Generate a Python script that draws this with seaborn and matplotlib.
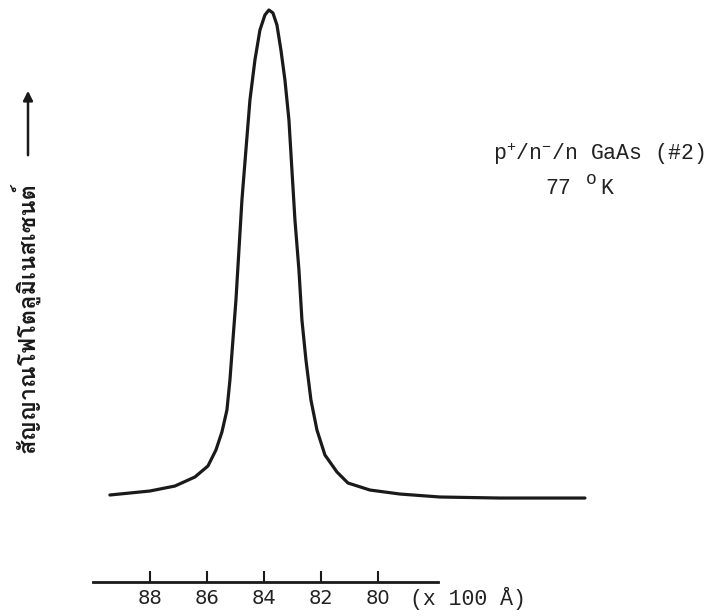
import numpy as np
import pandas as pd
import seaborn as sns
import matplotlib
matplotlib.use('Agg')
import matplotlib.pyplot as plt
from matplotlib import font_manager
from matplotlib.ft2font import FT2Font

sns.set_style('white')

# Data (wavelength in units of 100 A, relative intensity)
wavelength = [89.404, 88.000, 87.123, 86.421, 85.965, 85.684, 85.474, 85.298, 85.193, 85.088,
              84.982, 84.877, 84.772, 84.632, 84.491, 84.316, 84.140, 83.965, 83.825, 83.684,
              83.544, 83.404, 83.263, 83.123, 83.018, 82.912, 82.772, 82.667, 82.526, 82.351,
              82.140, 81.860, 81.439, 81.053, 80.281, 79.228, 77.825, 75.719, 72.737]
intensity = [0.2000, 0.2066, 0.2148, 0.2297, 0.2478, 0.2742, 0.3039, 0.3402, 0.3897, 0.4557,
             0.5216, 0.6041, 0.6866, 0.7691, 0.8515, 0.9175, 0.9670, 0.9918, 1.0000, 0.9951,
             0.9753, 0.9340, 0.8845, 0.8186, 0.7361, 0.6536, 0.5711, 0.4887, 0.4227, 0.3567,
             0.3072, 0.2660, 0.2380, 0.2198, 0.2082, 0.2016, 0.1967, 0.1950, 0.1950]
tick_values = [88, 86, 84, 82, 80]
tick_labels = ['88', '86', '84', '82', '80']

df = pd.DataFrame({'wavelength': wavelength, 'intensity': intensity})

# find a font with Thai glyphs for the y label
thai_family = None
for f in font_manager.fontManager.ttflist:
    try:
        cmap = FT2Font(f.fname).get_charmap()
    except Exception:
        continue
    if ord('\u0e2a') in cmap:
        thai_family = f.name
        break

mono = 'Liberation Mono'
plt.rcParams['mathtext.fontset'] = 'custom'
plt.rcParams['mathtext.rm'] = mono
plt.rcParams['mathtext.it'] = mono

fig = plt.figure(figsize=(7.12, 6.16), dpi=100)
ax = fig.add_axes([0, 34 / 616, 1, 582 / 616])

sns.lineplot(data=df, x='wavelength', y='intensity', ax=ax, color='#1a1a1a',
             linewidth=2.3, sort=False, estimator=None)

ax.set_xlim(93.26, 68.28)
ax.set_ylim(0.0565, 1.0165)
for s in ['top', 'right', 'left']:
    ax.spines[s].set_visible(False)
ax.spines['bottom'].set_bounds(90.0, 77.9)
ax.spines['bottom'].set_linewidth(2.0)
ax.spines['bottom'].set_color('#1a1a1a')
ax.set_xticks(tick_values)
ax.set_xticklabels(tick_labels, fontsize=14, family='DejaVu Sans', color='#222222')
ax.tick_params(axis='x', direction='in', length=8, width=1.5, pad=5, colors='#1a1a1a',
               bottom=True)
ax.tick_params(axis='x', labelcolor='#222222')
ax.set_yticks([])
ax.set_xlabel('')
ax.set_ylabel('')

fig.text(410 / 712, 1 - 605 / 616, '(x 100 Å)', fontsize=15.5, family=mono,
         ha='left', va='baseline', color='#222222')

fig.text(493 / 712, 1 - 160 / 616, 'p$^{+}$/n$^{-}$/n GaAs (#2)', fontsize=15.5,
         family=mono, ha='left', va='baseline', color='#222222')
fig.text(545 / 712, 1 - 194 / 616, '77', fontsize=15.5,
         family=mono, ha='left', va='baseline', color='#222222')
fig.text(586 / 712, 1 - 184 / 616, 'o', fontsize=13,
         family=mono, ha='left', va='baseline', color='#222222')
fig.text(600 / 712, 1 - 194 / 616, 'K', fontsize=15.5,
         family=mono, ha='left', va='baseline', color='#222222')

ylabel = 'สัญญาณโฟโตลูมิเนสเซนต์'
fams = [thai_family, 'DejaVu Sans'] if thai_family else ['DejaVu Sans']
fig.text(25 / 712, 1 - 318 / 616, ylabel, rotation=90, fontsize=17, family=fams,
         ha='center', va='center', color='#1a1a1a', fontweight='bold')

ax.annotate('', xy=(28 / 712, 1 - 88 / 616), xytext=(28 / 712, 1 - 158 / 616),
            xycoords='figure fraction', textcoords='figure fraction',
            arrowprops=dict(arrowstyle='-|>', color='#1a1a1a', lw=1.8, mutation_scale=14))

fig.savefig('out.png', dpi=100)
